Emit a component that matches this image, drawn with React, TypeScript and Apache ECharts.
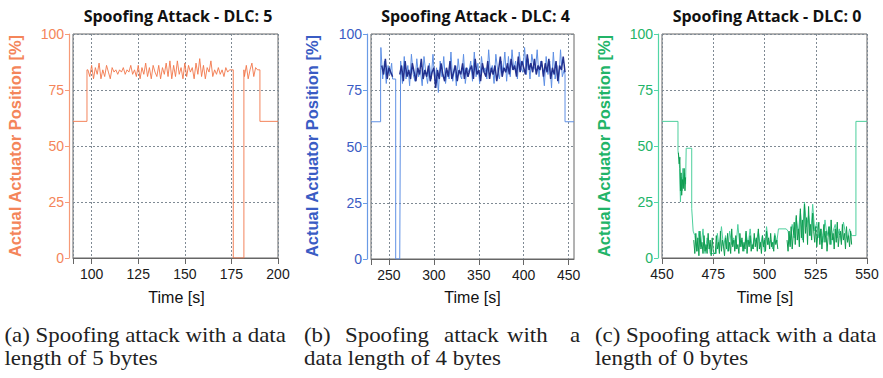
import React, { useEffect, useRef } from "react";
import * as echarts from "echarts";

// ---------- Panel (a): DLC 5 ----------
const A_X_TICKS = [90, 100, 125, 150, 175, 200];
const A_X_LABELS = [100, 125, 150, 175, 200];
const A_HEAD = [[90, 61], [97.5, 61], [97.5, 84]];
const A_NOISE1_T0 = 98;
const A_NOISE1 = [
  84, 81, 86, 80, 85, 82, 87, 80, 84, 81, 86, 83, 80, 85,
  83, 84, 82, 84, 83, 85, 82, 84, 83, 86, 82, 84, 81,
  86, 80, 85, 82, 87, 81, 85, 80, 86, 83, 81, 86, 80, 85, 82, 87, 81,
  88, 80, 86, 81, 88, 82, 85, 80, 87, 81, 86, 83,
  85, 80, 87, 82, 89, 81, 86, 80, 85, 83, 88, 81, 84, 82,
  85, 82, 84, 81, 85, 83, 84, 84,
];
const A_MID = [[176, 84], [176, 0], [181.7, 0], [181.7, 84]];
const A_NOISE2_T0 = 182;
const A_NOISE2 = [81, 86, 80, 84, 87, 81, 85];
const A_TAIL = [[189, 84], [190.3, 84], [190.3, 61], [200, 61]];

// ---------- Panel (b): DLC 4 ----------
const B_X_TICKS = [230, 250, 300, 350, 400, 450];
const B_X_LABELS = [250, 300, 350, 400, 450];
const B_HEAD = [[230, 61], [240.7, 61], [240.7, 85]];
const B_LIGHT_A = [94, 80, 88, 78, 86, 82, 87]; // t = 241..253 step 2
const B_GAP = [[254, 80], [257.5, 80], [257.5, 0], [262, 0]];
const B_LIGHT_B = [ // t = 263..445 step 2
  88, 78, 90, 80, 86, 77, 91, 82, 79, 89, 81, 84, 77, 90, 83, 78, 87, 80, 91, 79,
  85, 74, 88, 81, 90, 78, 84, 80, 92, 79, 86, 77, 89, 82, 80, 91, 78, 85, 83, 88,
  79, 92, 81, 87, 78, 90, 83, 85, 80, 93, 82, 86, 78, 91, 84, 80, 88, 83, 92, 79,
  90, 81, 93, 84, 88, 80, 92, 85, 83, 94, 82, 89, 80, 91, 86, 84, 93, 81, 88, 85,
  77, 90, 82, 88, 76, 92, 80, 86, 78, 93, 81, 84,
];
const B_TAIL = [[446, 82], [446, 61], [456, 61]];
const B_DARK_A = [86, 82, 89, 80, 85, 83, 81]; // t = 242..254 step 2
const B_DARK_B = [ // t = 262..446 step 2
  82, 86, 79, 88, 81, 84, 80, 87, 83, 79, 85, 82, 89, 80, 84, 81, 86, 79, 83, 85,
  76, 84, 80, 87, 82, 79, 85, 81, 88, 80, 83, 86, 79, 84, 82, 87, 80, 85, 81, 84,
  86, 80, 89, 82, 84, 79, 87, 83, 81, 88, 80, 85, 82, 86, 79, 84, 90, 81, 85, 83,
  87, 82, 89, 84, 86, 81, 90, 83, 88, 85, 82, 91, 84, 87, 83, 89, 82, 86, 84, 88,
  81, 87, 83, 89, 80, 85, 82, 88, 79, 86, 84, 90, 83,
];

// ---------- Panel (c): DLC 0 ----------
const C_X_TICKS = [450, 475, 500, 525, 550];
const C_X_LABELS = [450, 475, 500, 525, 550];
const C_HEAD = [
  [450, 61], [457.8, 61], [457.8, 48], [458.3, 44], [458.6, 40], [459, 25],
  [459.4, 36], [459.8, 30], [460.2, 40], [460.6, 32], [461, 38], [461.5, 33],
  [461.8, 49], [464.5, 49], [464.5, 22], [465.2, 12],
];
const C_LIGHT_1A = [10, 3, 12, 5, 13, 2, 9, 6]; // t = 466..473
const C_FLAT_LOW = [[473.5, 2], [476.5, 2]];
const C_LIGHT_1B = [ // t = 477..506
  11, 4, 14, 5, 10, 3, 12, 6, 9, 4, 15, 5, 8, 3, 11, 6, 13, 4, 9, 7,
  12, 5, 10, 3, 14, 6, 8, 4, 11, 7,
];
const C_STEP_MID = [[506.8, 13], [510.6, 13]];
const C_LIGHT_2 = [ // t = 511.5..542.5
  12, 6, 15, 9, 18, 11, 21, 8, 25, 14, 19, 10, 24, 12, 16, 9, 13, 7, 17, 10,
  14, 6, 12, 15, 9, 13, 7, 16, 11, 8, 13, 10,
];
const C_TAIL = [[543, 10], [544.6, 10], [544.6, 61], [550, 61]];
const C_DARK_DESC = [
  [458, 47], [458.4, 42], [458.7, 45], [459, 30], [459.3, 38], [459.6, 28],
  [460, 35], [460.4, 31], [460.8, 40], [461.2, 30], [461.5, 36],
];
const C_DARK_1 = [ // t = 465.5..506.5 step 0.5
  8, 2, 11, 3, 9, 1, 12, 4, 7, 2, 10, 3, 6, 2, 11, 4, 8, 1, 9, 3,
  2, 2, 10, 4, 7, 2, 12, 3, 8, 5, 1, 9, 4, 11, 3, 7, 2, 13, 5, 8,
  3, 10, 4, 6, 2, 11, 5, 9, 3, 7, 4, 12, 2, 8, 5, 10, 3, 6, 4, 11,
  5, 9, 3, 13, 4, 7, 2, 10, 5, 8, 3, 12, 6, 9, 4, 11, 5, 7, 3, 10, 6, 8, 4,
];
const C_DARK_2 = [ // t = 511..542.5 step 0.5
  8, 3, 12, 5, 14, 4, 10, 16, 6, 19, 8, 13, 5, 22, 9, 17, 7, 24, 11, 18,
  6, 23, 10, 15, 8, 20, 12, 7, 14, 5, 11, 16, 6, 13, 4, 10, 15, 7, 12, 3,
  9, 14, 6, 17, 8, 11, 4, 13, 7, 16, 5, 10, 12, 6, 15, 8, 11, 4, 14, 7, 10, 5, 12, 6,
];

const TITLES = ["Spoofing Attack - DLC: 5", "Spoofing Attack - DLC: 4", "Spoofing Attack - DLC: 0"];
const Y_NAME = "Actual Actuator Position [%]";
const X_NAME = "Time [s]";
const CAPTION_LINES: [string, number, number][] = [
  ["(a) Spoofing attack with a data", 4.5, 0],
  ["length of 5 bytes", 4.5, 1],
  ["(b)", 304, 0],
  ["Spoofing", 345, 0],
  ["attack", 444, 0],
  ["with", 507, 0],
  ["a", 570, 0],
  ["data length of 4 bytes", 304, 1],
  ["(c) Spoofing attack with a data", 595, 0],
  ["length of 0 bytes", 595, 1],
];

const seq = (t0: number, dt: number, vals: number[]) => vals.map((v, i) => [t0 + i * dt, v]);

const COLORS = [
  { label: "#f4855a", axis: "#f79b78", line: "#f2764a", dark: "#f2764a" },
  { label: "#3a5cc4", axis: "#6a9be6", line: "#5f90e4", dark: "#22318f" },
  { label: "#22b468", axis: "#52d6a6", line: "#4ccf9c", dark: "#0f9c50" },
];

const GRIDS = [
  { left: 73, top: 34, width: 205, height: 224 },
  { left: 371, top: 34, width: 203, height: 225 },
  { left: 662, top: 34, width: 205, height: 224 },
];

export default function App() {
  const ref = useRef<HTMLDivElement>(null);
  useEffect(() => {
    document.body.style.margin = "0";
    if (!ref.current) return;
    const chart = echarts.init(ref.current, null, { renderer: "svg" });

    const aData = [
      ...A_HEAD,
      ...seq(A_NOISE1_T0, 1, A_NOISE1),
      ...A_MID,
      ...seq(A_NOISE2_T0, 1, A_NOISE2),
      ...A_TAIL,
    ];
    const bLight = [
      ...B_HEAD,
      ...seq(241, 2, B_LIGHT_A),
      ...B_GAP,
      ...seq(263, 2, B_LIGHT_B),
      ...B_TAIL,
    ];
    const bDark = [...seq(242, 2, B_DARK_A), [258, null], ...seq(262, 2, B_DARK_B)];
    const cLight = [
      ...C_HEAD,
      ...seq(466, 1, C_LIGHT_1A),
      ...C_FLAT_LOW,
      ...seq(477, 1, C_LIGHT_1B),
      ...C_STEP_MID,
      ...seq(511.5, 1, C_LIGHT_2),
      ...C_TAIL,
    ];
    const cDark = [
      ...C_DARK_DESC,
      [463, null],
      ...seq(465.5, 0.5, C_DARK_1),
      [509, null],
      ...seq(511, 0.5, C_DARK_2),
    ];

    const xDefs = [
      { min: 90, max: 200, ticks: A_X_TICKS, labels: A_X_LABELS },
      { min: 230, max: 456, ticks: B_X_TICKS, labels: B_X_LABELS },
      { min: 450, max: 550, ticks: C_X_TICKS, labels: C_X_LABELS },
    ];

    const splitStyle = { type: [2, 2] as any, color: "#7f8a94", width: 1 };

    const xAxis = xDefs.map((d, i) => ({
      type: "value",
      gridIndex: i,
      min: d.min,
      max: d.max,
      axisLine: { show: true, onZero: false, lineStyle: { color: "#666", width: 1 } },
      axisTick: { show: true, customValues: d.ticks, length: 6, lineStyle: { color: "#666" } },
      axisLabel: {
        customValues: d.labels,
        color: "#1a1a1a",
        fontSize: 14,
        fontFamily: "Liberation Sans",
        margin: 9,
      },
      splitLine: { show: true, lineStyle: splitStyle },
    }));

    const yAxis = [0, 1, 2].map((i) => ({
      type: "value",
      gridIndex: i,
      min: 0,
      max: 100,
      interval: 25,
      offset: 4,
      axisLine: { show: true, lineStyle: { color: COLORS[i].axis, width: 1.2 } },
      axisTick: { show: true, length: 4, lineStyle: { color: COLORS[i].axis } },
      axisLabel: {
        color: COLORS[i].label,
        fontSize: 14,
        fontFamily: "Liberation Sans",
        margin: 5,
      },
      splitLine: { show: true, lineStyle: splitStyle },
    }));

    const lineBase = { type: "line", showSymbol: false, symbol: "none", connectNulls: false, clip: true };
    const series = [
      { ...lineBase, xAxisIndex: 0, yAxisIndex: 0, data: aData, lineStyle: { color: COLORS[0].line, width: 0.9 } },
      { ...lineBase, xAxisIndex: 1, yAxisIndex: 1, data: bLight, lineStyle: { color: COLORS[1].line, width: 1 } },
      { ...lineBase, xAxisIndex: 1, yAxisIndex: 1, data: bDark, lineStyle: { color: COLORS[1].dark, width: 1.5 } },
      { ...lineBase, xAxisIndex: 2, yAxisIndex: 2, data: cLight, lineStyle: { color: COLORS[2].line, width: 1 } },
      { ...lineBase, xAxisIndex: 2, yAxisIndex: 2, data: cDark, lineStyle: { color: COLORS[2].dark, width: 1 } },
    ];

    const titleX = [178, 475.5, 767];
    const yNameX = [14.5, 311.5, 603.5];
    const xNameX = [176.5, 472.5, 765];

    const texts: any[] = [];
    for (let i = 0; i < 3; i++) {
      texts.push({
        type: "text",
        x: titleX[i],
        y: 15.5,
        style: {
          text: TITLES[i],
          fill: "#111",
          fontSize: 16,
          fontWeight: "bold",
          fontFamily: "Open Sans",
          textAlign: "center",
          textVerticalAlign: "middle",
        },
      });
      texts.push({
        type: "text",
        x: yNameX[i],
        y: 146,
        rotation: Math.PI / 2,
        style: {
          text: Y_NAME,
          fill: COLORS[i].label,
          fontSize: 16.5,
          fontWeight: "bold",
          fontFamily: "Liberation Sans",
          textAlign: "center",
          textVerticalAlign: "middle",
        },
      });
      texts.push({
        type: "text",
        x: xNameX[i],
        y: 297,
        style: {
          text: X_NAME,
          fill: "#111",
          fontSize: 16,
          fontFamily: "Liberation Sans",
          textAlign: "center",
          textVerticalAlign: "middle",
        },
      });
    }

    const lineY = [335, 358];
    CAPTION_LINES.forEach(([t, x, row]) =>
      texts.push({
        type: "text",
        x,
        y: lineY[row],
        scaleX: 1.04,
        style: {
          text: t,
          fill: "#222",
          fontSize: 22,
          lineHeight: 22,
          fontFamily: "Liberation Serif",
          textAlign: "left",
          textVerticalAlign: "middle",
        },
      })
    );

    chart.setOption({
      animation: false,
      backgroundColor: "#fff",
      grid: GRIDS.map((g) => ({ ...g, show: true, borderColor: "#666", borderWidth: 1, containLabel: false })),
      xAxis,
      yAxis,
      series,
      graphic: texts,
    } as any);

    return () => chart.dispose();
  }, []);

  return <div ref={ref} style={{ width: 883, height: 378 }} />;
}
